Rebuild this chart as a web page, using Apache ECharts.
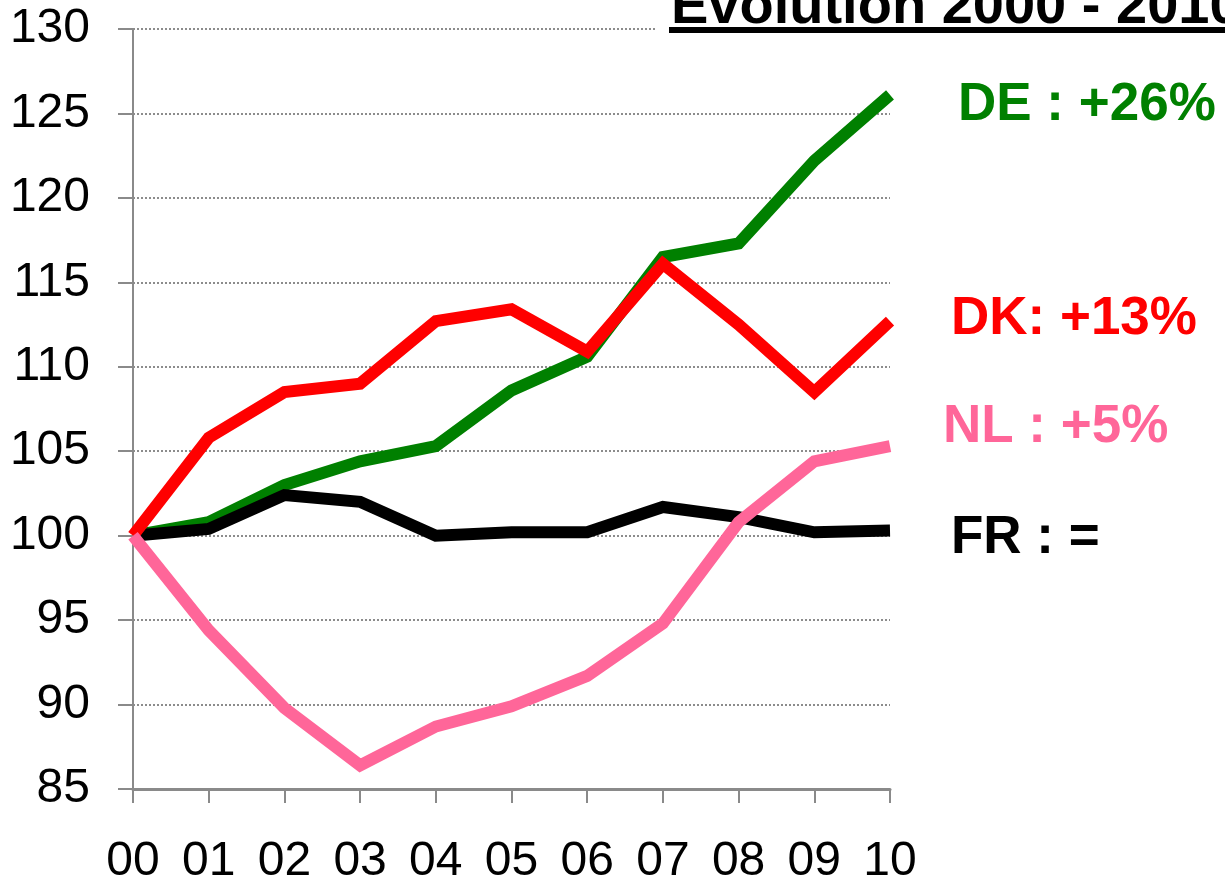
<!DOCTYPE html>
<html lang="fr">

<head>
    <meta charset="UTF-8">
    <title>Evolution 2000 - 2010</title>
    <script src="https://cdn.jsdelivr.net/npm/echarts@6/dist/echarts.min.js"></script>
    <style>
        body {
            margin: 0;
            padding: 0;
            background: #fff;
        }

        #main {
            width: 1225px;
            height: 883px;
        }
    </style>
</head>

<body>
    <div id="main"></div>

    <script>
        // années (libellés de l'axe X)
        var years = ['00', '01', '02', '03', '04', '05', '06', '07', '08', '09', '10'];

        // indices base 100 en 2000
        var deValues = [100, 100.8, 103.0, 104.4, 105.3, 108.6, 110.6, 116.5, 117.3, 122.2, 126.1];
        var frValues = [100, 100.4, 102.4, 102.0, 100.0, 100.2, 100.2, 101.7, 101.1, 100.2, 100.3];
        var dkValues = [100, 105.8, 108.5, 109.0, 112.7, 113.4, 110.9, 116.1, 112.5, 108.5, 112.7];
        var nlValues = [100, 94.4, 89.8, 86.4, 88.7, 89.9, 91.7, 94.8, 100.8, 104.4, 105.3];

        var yMin = 85, yMax = 130, yStep = 5;

        var titleText = 'Evolution 2000 - 2010';
        var seriesLabels = ['DE : +26%', 'DK: +13%', 'NL : +5%', 'FR : ='];

        var green = '#008000', red = '#ff0000', pink = '#ff6699', black = '#000000';
        var axisGray = '#8a8a8a';
        var font = '"Liberation Sans", Arial, sans-serif';

        var chartDom = document.getElementById('main');
        var myChart = echarts.init(chartDom);

        function lineSeries(name, data, color) {
            return {
                name: name,
                type: 'line',
                data: data,
                showSymbol: false,
                symbol: 'none',
                animation: false,
                lineStyle: {
                    color: color,
                    width: 12,
                    cap: 'butt',
                    join: 'miter'
                }
            };
        }

        function label(text, x, y, color) {
            return {
                type: 'text',
                left: x,
                top: y,
                z: 100,
                style: {
                    text: text,
                    fill: color,
                    font: 'bold 53px ' + font
                }
            };
        }

        var option = {
            backgroundColor: '#fff',
            animation: false,
            grid: {
                left: 133,
                right: 335,
                top: 29,
                bottom: 94,
                outerBoundsMode: 'none'
            },
            xAxis: {
                type: 'category',
                data: years,
                boundaryGap: false,
                axisLine: {
                    lineStyle: { color: axisGray, width: 3 }
                },
                axisTick: {
                    show: true,
                    length: 14,
                    lineStyle: { color: axisGray, width: 2 }
                },
                axisLabel: {
                    color: '#000',
                    fontSize: 48,
                    fontFamily: font,
                    margin: 49,
                    interval: 0
                },
                splitLine: { show: false }
            },
            yAxis: {
                type: 'value',
                min: yMin,
                max: yMax,
                interval: yStep,
                axisLine: {
                    show: true,
                    lineStyle: { color: axisGray, width: 2 }
                },
                axisTick: {
                    show: true,
                    length: 15,
                    lineStyle: { color: axisGray, width: 2 }
                },
                axisLabel: {
                    color: '#000',
                    fontSize: 48,
                    fontFamily: font,
                    margin: 43
                },
                splitLine: {
                    show: true,
                    lineStyle: { color: '#8c8c8c', width: 2, type: [2, 2] }
                }
            },
            series: [
                lineSeries('DE', deValues, green),
                lineSeries('FR', frValues, black),
                lineSeries('DK', dkValues, red),
                lineSeries('NL', nlValues, pink)
            ],
            graphic: [
                // fond blanc derrière le titre
                {
                    type: 'rect',
                    shape: { x: 655, y: 0, width: 570, height: 36 },
                    style: { fill: '#fff' },
                    z: 90
                },
                {
                    type: 'text',
                    x: 671,
                    y: 36,
                    z: 100,
                    style: {
                        text: titleText,
                        fill: '#000',
                        font: 'bold 56px ' + font,
                        verticalAlign: 'bottom'
                    }
                },
                // soulignement
                {
                    type: 'rect',
                    shape: { x: 669, y: 27, width: 560, height: 6 },
                    style: { fill: '#000' },
                    z: 100
                },
                label(seriesLabels[0], 958, 79, green),
                label(seriesLabels[1], 951, 293, red),
                label(seriesLabels[2], 943, 401, pink),
                label(seriesLabels[3], 951, 512, black)
            ]
        };

        option && myChart.setOption(option);
    </script>
</body>

</html>
